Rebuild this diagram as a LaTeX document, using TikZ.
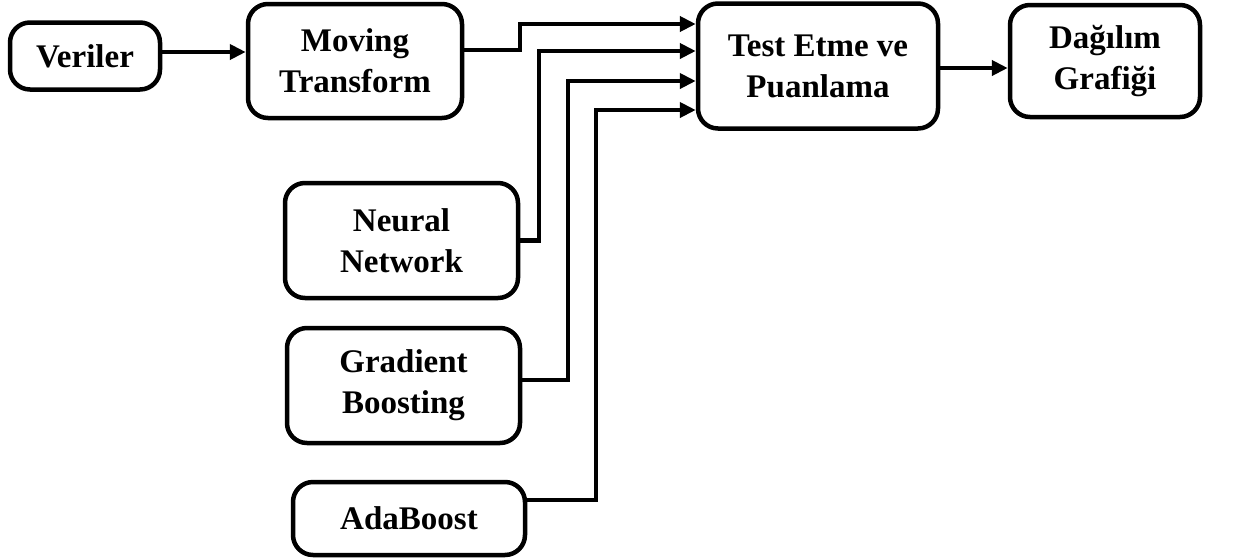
\documentclass[tikz,border=0pt]{standalone}
\usepackage{fontspec}
\setmainfont{Liberation Serif}
\usetikzlibrary{arrows.meta,calc}

\tikzset{
  box/.style={draw=black, line width=4.5pt, rounded corners=20pt, fill=white,
    align=center, inner sep=0pt,
    font=\fontsize{33}{41}\selectfont\bfseries},
  link/.style={line width=4.5pt, -{Triangle[length=16pt,width=15pt]}},
}

\begin{document}
\begin{tikzpicture}[x=1pt,y=-1pt]
  \useasboundingbox (0,0) rectangle (1254,558);

  % processing stages along the top row
  \node[box, minimum width=150pt, minimum height=67pt] (ver) at (85,56) {Veriler};
  \node[box, minimum width=214pt, minimum height=114pt] (mt) at (355,61) {Moving\\Transform};
  \node[box, minimum width=240pt, minimum height=125pt] (test) at (818,66) {Test Etme ve\\Puanlama};
  \node[box, minimum width=190pt, minimum height=112pt] (dg) at (1105,61) {Dağılım\\Grafiği};

  % models stacked below
  \node[box, minimum width=233pt, minimum height=115pt] (nn) at (401.5,240.5) {Neural\\Network};
  \node[box, minimum width=233pt, minimum height=115pt] (gb) at (403.5,385.5) {Gradient\\Boosting};
  \node[box, minimum width=232pt, minimum height=73pt] (ab) at (409,518.5) {AdaBoost};

  % entry points on the left side of the scoring box
  \coordinate (in1) at (test.west |- 0,24);
  \coordinate (in2) at (test.west |- 0,51);
  \coordinate (in3) at (test.west |- 0,81);
  \coordinate (in4) at (test.west |- 0,110);

  % vertical risers of the elbow connectors
  \coordinate (r1) at (520,50);
  \coordinate (r2) at (539,240.5);
  \coordinate (r3) at (568,380);
  \coordinate (r4) at (596,500);

  \draw[link] (ver.east |- 0,52) -- (mt.west |- 0,52);
  \draw[link] (mt.east |- r1) -- (r1) |- (in1);
  \draw[link] (nn.east |- r2) -- (r2) |- (in2);
  \draw[link] (gb.east |- r3) -- (r3) |- (in3);
  \draw[link] (ab.east |- r4) -- (r4) |- (in4);
  \draw[link] (test.east |- 0,68) -- (dg.west |- 0,68);
\end{tikzpicture}
\end{document}
